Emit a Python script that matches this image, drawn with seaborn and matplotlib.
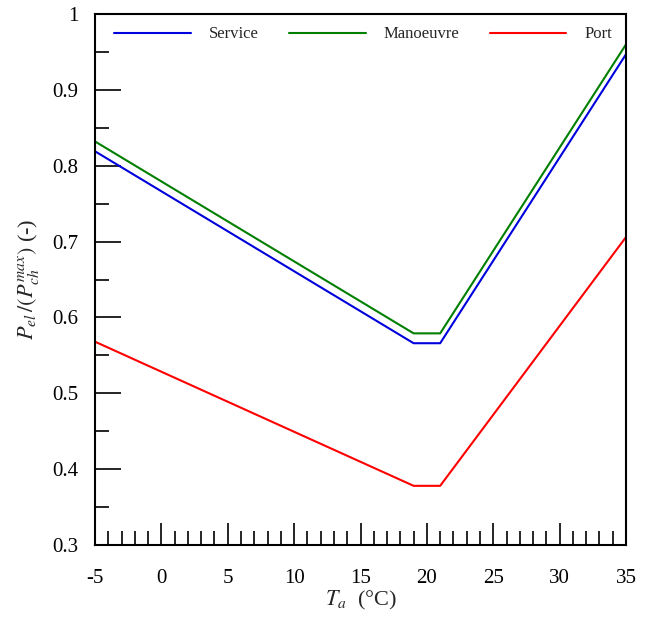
import pandas as pd
import matplotlib
matplotlib.use('Agg')
import matplotlib.pyplot as plt
import seaborn as sns
from matplotlib.ticker import MultipleLocator, FuncFormatter

# Datos
ta = [-5, 19, 21, 35]
service = [0.819, 0.566, 0.566, 0.947]
manoeuvre = [0.832, 0.579, 0.579, 0.960]
port = [0.568, 0.378, 0.378, 0.706]
modes = ['Service', 'Manoeuvre', 'Port']
colors = ['#0000dd', '#007f00', '#ff0000']

df = pd.DataFrame({'Ta': ta * 3,
                   'P': service + manoeuvre + port,
                   'mode': [m for m in modes for _ in ta]})

sns.set_style("white")
plt.rcParams['font.family'] = ['Liberation Serif', 'DejaVu Serif']
plt.rcParams['mathtext.fontset'] = 'stix'
plt.rcParams['axes.unicode_minus'] = False

fig = plt.figure(figsize=(6.49, 6.17), dpi=100)
ax = fig.add_axes([0.1464, 0.1167, 0.8182, 0.8606])
sns.lineplot(data=df, x='Ta', y='P', hue='mode', hue_order=modes,
             palette=colors, linewidth=1.5, ax=ax)

ax.set_xlim(-5, 35)
ax.set_ylim(0.3, 1.0)
ax.xaxis.set_major_locator(MultipleLocator(5))
ax.xaxis.set_minor_locator(MultipleLocator(1))
ax.yaxis.set_major_locator(MultipleLocator(0.1))
ax.yaxis.set_minor_locator(MultipleLocator(0.05))
ax.yaxis.set_major_formatter(FuncFormatter(lambda v, p: f'{v:g}'))
ax.tick_params(axis='both', which='both', direction='in', top=False, right=False,
               bottom=True, left=True, labelsize=15, colors='black')
ax.tick_params(axis='y', which='major', length=19, width=1.2, pad=12)
ax.tick_params(axis='y', which='minor', length=10, width=1.2)
ax.tick_params(axis='x', which='major', length=16, width=1.2, pad=17)
ax.tick_params(axis='x', which='minor', length=10, width=1.2)
for s in ax.spines.values():
    s.set_color('black')
    s.set_linewidth(1.5)

ax.set_xlabel(r'$T_a$  (°C)', fontsize=16, labelpad=1)
ax.set_ylabel(r'$P_{el}\,/(P_{ch}^{max})$ (-)', fontsize=16, labelpad=8)

ax.legend(loc='upper center', ncol=3, frameon=False, fontsize=12,
          handlelength=4.6, columnspacing=1.8, handletextpad=1.1,
          bbox_to_anchor=(0.505, 1.005))

fig.savefig('out.png', dpi=100)
